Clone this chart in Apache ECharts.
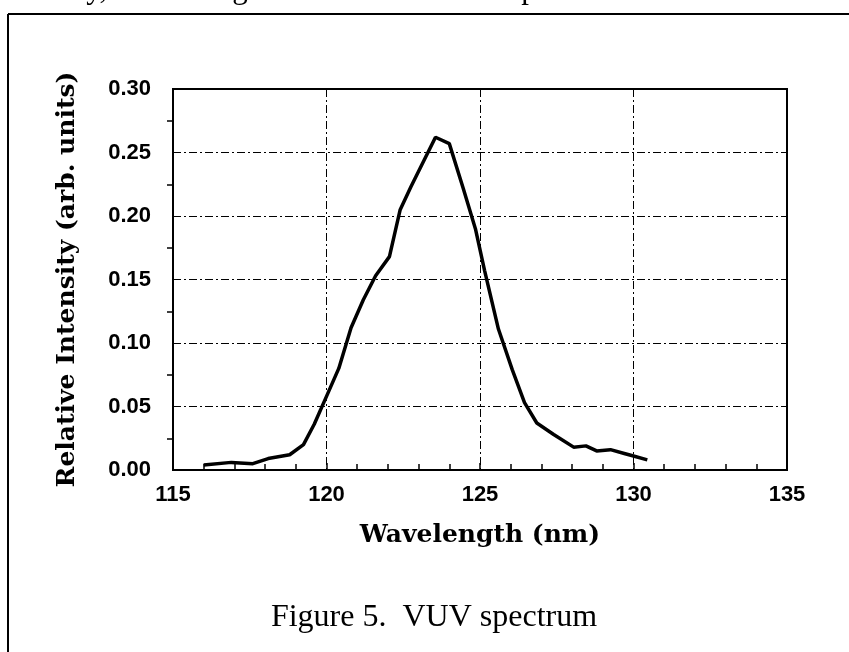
<!DOCTYPE html>
<html>
<head>
<meta charset="utf-8">
<script src="https://cdn.jsdelivr.net/npm/echarts@6/dist/echarts.min.js"></script>
<style>
html,body{margin:0;padding:0;background:#fff;}
#chart{width:849px;height:652px;}
</style>
</head>
<body>
<div id="chart"></div>
<script>
// Data
const wavelength = [116.0, 116.9, 117.6, 118.1, 118.8, 119.25, 119.6, 120.0, 120.4, 120.8, 121.2, 121.6, 122.05, 122.4, 122.75, 123.55, 124.0, 124.45, 124.85, 125.15, 125.6, 126.05, 126.45, 126.85, 127.4, 128.05, 128.45, 128.8, 129.25, 129.7, 130.0, 130.45];
const intensity  = [0.004, 0.006, 0.005, 0.009, 0.012, 0.020, 0.036, 0.058, 0.080, 0.112, 0.134, 0.153, 0.168, 0.205, 0.223, 0.262, 0.257, 0.222, 0.190, 0.157, 0.111, 0.079, 0.053, 0.037, 0.028, 0.018, 0.019, 0.015, 0.016, 0.013, 0.011, 0.008];
const xTicks = [115, 120, 125, 130, 135];
const yTicks = ['0.00', '0.05', '0.10', '0.15', '0.20', '0.25', '0.30'];
const xTitle = 'Wavelength (nm)';
const yTitle = 'Relative Intensity (arb. units)';
const caption = 'Figure 5.  VUV spectrum';
const topText = 'nsitivity, decreasing the vacuum chamber pressure';

const points = wavelength.map((w, i) => [w, intensity[i]]);
const dashDot = [8, 3, 2, 3];
const tickFont = {fontFamily: 'Liberation Sans, Arial, sans-serif', fontWeight: 'bold', fontSize: 22, color: '#000'};
const titleFont = {fontFamily: 'DejaVu Serif, serif', fontWeight: 'bold', fontSize: 25, color: '#000'};

const chart = echarts.init(document.getElementById('chart'), null, {renderer: 'canvas'});
chart.setOption({
  animation: false,
  backgroundColor: '#fff',
  grid: {left: 173, right: 62, top: 89, bottom: 182, show: true, borderColor: '#000', borderWidth: 2, backgroundColor: 'transparent'},
  xAxis: {
    type: 'value', min: xTicks[0], max: xTicks[xTicks.length - 1], interval: 5,
    name: xTitle, nameLocation: 'middle', nameGap: 53, nameTextStyle: titleFont,
    axisLine: {show: true, lineStyle: {color: '#000', width: 2}},
    axisTick: {show: true, inside: true, length: 7, lineStyle: {color: '#000', width: 1.5}},
    minorTick: {show: true, splitNumber: 5, length: 6, lineStyle: {color: '#000', width: 1.5}},
    axisLabel: Object.assign({margin: 14, formatter: v => String(v)}, tickFont),
    splitLine: {show: true, lineStyle: {color: '#000', width: 1, type: dashDot}}
  },
  yAxis: {
    type: 'value', min: 0, max: 0.3, interval: 0.05,
    name: yTitle, nameLocation: 'middle', nameGap: 93, nameTextStyle: titleFont,
    axisLine: {show: true, lineStyle: {color: '#000', width: 2}},
    axisTick: {show: false},
    minorTick: {show: true, splitNumber: 2, length: 6, lineStyle: {color: '#000', width: 1.5}},
    axisLabel: Object.assign({margin: 22, formatter: v => yTicks[Math.round(v / 0.05)]}, tickFont),
    splitLine: {show: true, lineStyle: {color: '#000', width: 1, type: dashDot}}
  },
  series: [{
    type: 'line', data: points, showSymbol: false, smooth: false,
    lineStyle: {color: '#000', width: 3.5}, z: 5
  }],
  graphic: [
    {type: 'line', shape: {x1: 8, y1: 14, x2: 849, y2: 14}, style: {stroke: '#000', lineWidth: 2}},
    {type: 'line', shape: {x1: 8, y1: 14, x2: 8, y2: 652}, style: {stroke: '#000', lineWidth: 2}},
    {type: 'text', x: 0, y: 5, style: {text: topText, font: '31px "Liberation Serif", serif', fill: '#000', verticalAlign: 'bottom', textAlign: 'left'}},
    {type: 'text', x: 434, y: 618, style: {text: caption, font: '32px "Liberation Serif", serif', fill: '#000', verticalAlign: 'middle', align: 'center', textAlign: 'center'}}
  ]
});
</script>
</body>
</html>
